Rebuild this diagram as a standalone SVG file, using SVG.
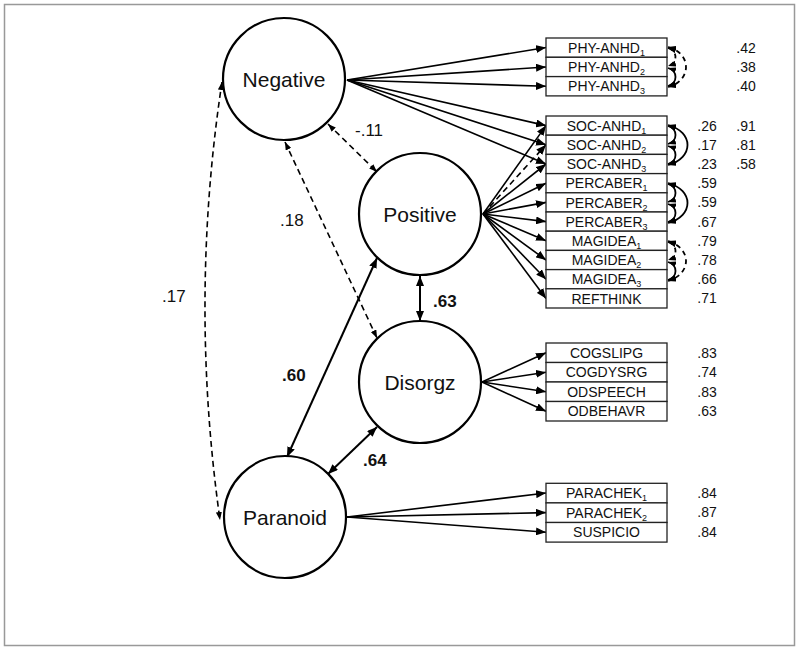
<svg xmlns="http://www.w3.org/2000/svg" width="800" height="652" viewBox="0 0 800 652">
<defs>
<marker id="ah" viewBox="0 0 10 8" refX="10" refY="4" markerWidth="10" markerHeight="8" markerUnits="userSpaceOnUse" orient="auto-start-reverse"><path d="M0,0 L10,4 L0,8 Z" fill="#000"/></marker>
<marker id="ahs" viewBox="0 0 8 6" refX="8" refY="3" markerWidth="8" markerHeight="6" markerUnits="userSpaceOnUse" orient="auto-start-reverse"><path d="M0,0 L8,3 L0,6 Z" fill="#000"/></marker>
</defs>
<style>
.lat{fill:#fff;stroke:#000;stroke-width:2.2}
.lt{font-family:"Liberation Sans",Arial,sans-serif;font-size:21px;text-anchor:middle;fill:#111}
.box{fill:#fff;stroke:#222;stroke-width:1.3}
.bt{font-family:"Liberation Sans",Arial,sans-serif;font-size:14px;text-anchor:middle;fill:#111}
.sb{font-size:9px}
.val{font-family:"Liberation Sans",Arial,sans-serif;font-size:14px;text-anchor:middle;fill:#111}
.pl{font-family:"Liberation Sans",Arial,sans-serif;font-size:17px;fill:#111}
.plb{font-family:"Liberation Sans",Arial,sans-serif;font-size:17px;font-weight:bold;fill:#111}
.ld{fill:none;stroke:#000;stroke-width:1.6;marker-end:url(#ah)}
.ldd{fill:none;stroke:#000;stroke-width:1.6;stroke-dasharray:6,4;marker-end:url(#ah)}
.cs{fill:none;stroke:#000;stroke-width:2;marker-start:url(#ah);marker-end:url(#ah)}
.cd{fill:none;stroke:#000;stroke-width:1.6;stroke-dasharray:6,4;marker-start:url(#ahs);marker-end:url(#ahs)}
.es{fill:none;stroke:#000;stroke-width:1.8;marker-start:url(#ahs);marker-end:url(#ahs)}
.ed{fill:none;stroke:#000;stroke-width:1.8;stroke-dasharray:5,4;marker-start:url(#ahs);marker-end:url(#ahs)}
</style>
<rect x="4.5" y="4.5" width="790" height="641" fill="#fff" stroke="#999" stroke-width="1.5"/>

<g id="connectors">
<line class="ld" x1="347" y1="80" x2="546" y2="47.5"/>
<line class="ld" x1="347" y1="80" x2="546" y2="67"/>
<line class="ld" x1="347" y1="80" x2="546" y2="86.3"/>
<line class="ld" x1="347" y1="80" x2="546" y2="125.6"/>
<line class="ld" x1="347" y1="80" x2="546" y2="144.8"/>
<line class="ld" x1="347" y1="80" x2="546" y2="164"/>
<line class="ld" x1="483" y1="214" x2="546" y2="125.6"/>
<line class="ldd" x1="483" y1="214" x2="546" y2="144.8"/>
<line class="ld" x1="483" y1="214" x2="546" y2="164"/>
<line class="ld" x1="483" y1="214" x2="546" y2="183.2"/>
<line class="ld" x1="483" y1="214" x2="546" y2="202.4"/>
<line class="ld" x1="483" y1="214" x2="546" y2="221.6"/>
<line class="ld" x1="483" y1="214" x2="546" y2="240.8"/>
<line class="ld" x1="483" y1="214" x2="546" y2="260"/>
<line class="ld" x1="483" y1="214" x2="546" y2="279.2"/>
<line class="ld" x1="483" y1="214" x2="546" y2="298.4"/>
<line class="ld" x1="482" y1="382" x2="546" y2="352.8"/>
<line class="ld" x1="482" y1="382" x2="546" y2="372.3"/>
<line class="ld" x1="482" y1="382" x2="546" y2="391.8"/>
<line class="ld" x1="482" y1="382" x2="546" y2="411.3"/>
<line class="ld" x1="347" y1="517" x2="546" y2="493"/>
<line class="ld" x1="347" y1="517" x2="546" y2="512.6"/>
<line class="ld" x1="347" y1="517" x2="546" y2="532.2"/>
<line class="cd" x1="328" y1="124" x2="377" y2="172"/>
<line class="cd" x1="285" y1="142" x2="377" y2="338"/>
<path class="cd" d="M222,82 Q189,300 220,520"/>
<line class="cs" x1="420" y1="276" x2="420" y2="321"/>
<line class="cs" x1="377" y1="258" x2="287" y2="457"/>
<line class="cs" x1="377" y1="427" x2="328" y2="474"/>
<path class="ed" d="M668,48 C678,51 678,63 668,66"/>
<path class="es" d="M668,68 C678,71 678,83 668,86"/>
<path class="ed" d="M668,47 C692,53 692,81 668,87"/>
<path class="es" d="M668,126 C678,129 678,141 668,144"/>
<path class="es" d="M668,146 C678,149 678,161 668,164"/>
<path class="es" d="M668,125 C694,132 694,158 668,165"/>
<path class="es" d="M668,184 C678,187 678,199 668,202"/>
<path class="es" d="M668,204 C678,207 678,219 668,222"/>
<path class="es" d="M668,183 C694,190 694,216 668,223"/>
<path class="ed" d="M668,242 C678,245 678,257 668,260"/>
<path class="es" d="M668,262 C678,265 678,277 668,280"/>
<path class="ed" d="M668,241 C692,248 692,274 668,281"/>
</g>

<g id="Negative"><circle class="lat" cx="284" cy="79" r="61"/><text class="lt" x="284" y="87">Negative</text></g>
<g id="Positive"><circle class="lat" cx="420" cy="214" r="61"/><text class="lt" x="420" y="222">Positive</text></g>
<g id="Disorgz"><circle class="lat" cx="420" cy="382" r="61"/><text class="lt" x="420" y="390">Disorgz</text></g>
<g id="Paranoid"><circle class="lat" cx="285" cy="517" r="61"/><text class="lt" x="285" y="525">Paranoid</text></g>

<g id="phy">
<rect class="box" x="546" y="38" width="121" height="19.3"/>
<rect class="box" x="546" y="57.3" width="121" height="19.3"/>
<rect class="box" x="546" y="76.6" width="121" height="19.3"/>
<text class="bt" x="606.5" y="52.8">PHY-ANHD<tspan class="sb" dy="3">1</tspan></text>
<text class="bt" x="606.5" y="72.1">PHY-ANHD<tspan class="sb" dy="3">2</tspan></text>
<text class="bt" x="606.5" y="91.4">PHY-ANHD<tspan class="sb" dy="3">3</tspan></text>
</g>
<g id="pos-ind">
<rect class="box" x="546" y="116" width="121" height="19.2"/>
<rect class="box" x="546" y="135.2" width="121" height="19.2"/>
<rect class="box" x="546" y="154.4" width="121" height="19.2"/>
<rect class="box" x="546" y="173.6" width="121" height="19.2"/>
<rect class="box" x="546" y="192.8" width="121" height="19.2"/>
<rect class="box" x="546" y="212" width="121" height="19.2"/>
<rect class="box" x="546" y="231.2" width="121" height="19.2"/>
<rect class="box" x="546" y="250.4" width="121" height="19.2"/>
<rect class="box" x="546" y="269.6" width="121" height="19.2"/>
<rect class="box" x="546" y="288.8" width="121" height="19.2"/>
<text class="bt" x="606.5" y="130.8">SOC-ANHD<tspan class="sb" dy="3">1</tspan></text>
<text class="bt" x="606.5" y="150">SOC-ANHD<tspan class="sb" dy="3">2</tspan></text>
<text class="bt" x="606.5" y="169.2">SOC-ANHD<tspan class="sb" dy="3">3</tspan></text>
<text class="bt" x="606.5" y="188.4">PERCABER<tspan class="sb" dy="3">1</tspan></text>
<text class="bt" x="606.5" y="207.6">PERCABER<tspan class="sb" dy="3">2</tspan></text>
<text class="bt" x="606.5" y="226.8">PERCABER<tspan class="sb" dy="3">3</tspan></text>
<text class="bt" x="606.5" y="246">MAGIDEA<tspan class="sb" dy="3">1</tspan></text>
<text class="bt" x="606.5" y="265.2">MAGIDEA<tspan class="sb" dy="3">2</tspan></text>
<text class="bt" x="606.5" y="284.4">MAGIDEA<tspan class="sb" dy="3">3</tspan></text>
<text class="bt" x="606.5" y="303.6">REFTHINK</text>
</g>
<g id="dis-ind">
<rect class="box" x="546" y="343" width="121" height="19.5"/>
<rect class="box" x="546" y="362.5" width="121" height="19.5"/>
<rect class="box" x="546" y="382" width="121" height="19.5"/>
<rect class="box" x="546" y="401.5" width="121" height="19.5"/>
<text class="bt" x="606.5" y="357.8">COGSLIPG</text>
<text class="bt" x="606.5" y="377.3">COGDYSRG</text>
<text class="bt" x="606.5" y="396.8">ODSPEECH</text>
<text class="bt" x="606.5" y="416.3">ODBEHAVR</text>
</g>
<g id="par-ind">
<rect class="box" x="546" y="483.3" width="121" height="19.6"/>
<rect class="box" x="546" y="502.9" width="121" height="19.6"/>
<rect class="box" x="546" y="522.5" width="121" height="19.6"/>
<text class="bt" x="606.5" y="498.1">PARACHEK<tspan class="sb" dy="3">1</tspan></text>
<text class="bt" x="606.5" y="517.7">PARACHEK<tspan class="sb" dy="3">2</tspan></text>
<text class="bt" x="606.5" y="537.3">SUSPICIO</text>
</g>

<g id="values">
<text class="val" x="746" y="52.5">.42</text>
<text class="val" x="746" y="71.8">.38</text>
<text class="val" x="746" y="91.1">.40</text>
<text class="val" x="707" y="130.5">.26</text><text class="val" x="746" y="130.5">.91</text>
<text class="val" x="707" y="149.7">.17</text><text class="val" x="746" y="149.7">.81</text>
<text class="val" x="707" y="168.9">.23</text><text class="val" x="746" y="168.9">.58</text>
<text class="val" x="707" y="188.1">.59</text>
<text class="val" x="707" y="207.3">.59</text>
<text class="val" x="707" y="226.5">.67</text>
<text class="val" x="707" y="245.7">.79</text>
<text class="val" x="707" y="264.9">.78</text>
<text class="val" x="707" y="284.1">.66</text>
<text class="val" x="707" y="303.3">.71</text>
<text class="val" x="707" y="357.5">.83</text>
<text class="val" x="707" y="377">.74</text>
<text class="val" x="707" y="396.5">.83</text>
<text class="val" x="707" y="416">.63</text>
<text class="val" x="707" y="497.8">.84</text>
<text class="val" x="707" y="517.4">.87</text>
<text class="val" x="707" y="537">.84</text>
</g>

<g id="path-labels">
<text class="pl" x="355" y="136">-.11</text>
<text class="pl" x="280" y="226">.18</text>
<text class="pl" x="162" y="302">.17</text>
<text class="plb" x="282" y="381">.60</text>
<text class="plb" x="433" y="307">.63</text>
<text class="plb" x="363" y="466">.64</text>
</g>
</svg>
